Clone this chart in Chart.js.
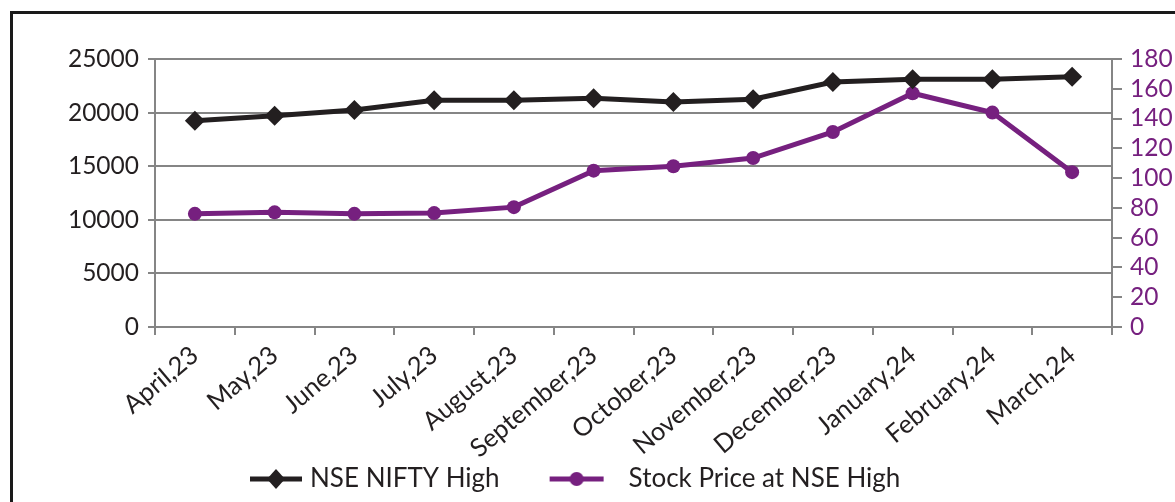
<!DOCTYPE html>
<html>
<head>
<meta charset="utf-8">
<script src="https://cdn.jsdelivr.net/npm/chart.js@4.4.1/dist/chart.umd.min.js"></script>
<style>
html,body{margin:0;padding:0;background:#fff;}
#wrap{width:1175px;height:502px;position:relative;overflow:hidden;}
</style>
</head>
<body>
<div id="wrap"><canvas id="c" width="1175" height="502"></canvas></div>
<script>
// ---- data ----
const categories = ["April,23","May,23","June,23","July,23","August,23","September,23","October,23","November,23","December,23","January,24","February,24","March,24"];
const niftyHigh = [19250, 19700, 20250, 21150, 21150, 21350, 21000, 21250, 22850, 23100, 23100, 23350];
const stockPrice = [76, 77, 76, 76.5, 80.5, 105, 108, 113.5, 131, 157, 144, 104];
const seriesNames = ["NSE NIFTY High", "Stock Price at NSE High"];
const leftAxisRange = [0, 25000, 5000];
const rightAxisRange = [0, 180, 20];

// ---- style ----
const BLACK = '#231f20';
const PURPLE = '#76207f';
const GRID = '#858585';
const FONT = 'Lato';

function legendIcon(color, diamond, x0, x1) {
  const cv = document.createElement('canvas');
  cv.width = 140; cv.height = 30;
  const g = cv.getContext('2d');
  g.strokeStyle = color; g.fillStyle = color; g.lineWidth = 5;
  g.beginPath(); g.moveTo(x0, 15); g.lineTo(x1, 15); g.stroke();
  const m = (x0 + x1) / 2;
  g.beginPath();
  if (diamond) { g.moveTo(m, 5); g.lineTo(m + 9, 15); g.lineTo(m, 25); g.lineTo(m - 9, 15); g.closePath(); }
  else { g.arc(m, 15, 7, 0, Math.PI * 2); }
  g.fill();
  return cv;
}
const icons = [legendIcon(BLACK, true, 81, 133), legendIcon(PURPLE, false, 62, 116)];

const framePlugin = {
  id: 'frame',
  beforeDraw(chart) {
    const ctx = chart.ctx;
    ctx.save();
    ctx.fillStyle = '#fff';
    ctx.fillRect(0, 0, chart.width, chart.height);
    ctx.strokeStyle = '#1a1a1a';
    ctx.lineWidth = 3;
    ctx.strokeRect(11.5, 12.5, 1400, 800);
    ctx.restore();
  },
  afterLayout(chart) {
    const lg = chart.legend;
    if (lg && lg.lineWidths) {
      lg.right = 2 * 181 + lg.lineWidths[0] - lg.left;
    }
  }
};

const plain = v => String(v);

new Chart(document.getElementById('c'), {
  type: 'line',
  data: {
    labels: categories,
    datasets: [
      {
        label: seriesNames[0], data: niftyHigh, yAxisID: 'y',
        borderColor: BLACK, backgroundColor: BLACK, borderWidth: 5,
        pointStyle: 'rectRot', pointRadius: 10, pointHoverRadius: 10,
        pointBackgroundColor: BLACK, pointBorderWidth: 0, tension: 0
      },
      {
        label: seriesNames[1], data: stockPrice, yAxisID: 'y1',
        borderColor: PURPLE, backgroundColor: PURPLE, borderWidth: 5,
        pointStyle: 'circle', pointRadius: 7, pointHoverRadius: 7,
        pointBackgroundColor: PURPLE, pointBorderWidth: 0, tension: 0
      }
    ]
  },
  options: {
    responsive: false,
    animation: false,
    devicePixelRatio: 1,
    layout: { padding: { top: 59, left: 0, right: 0, bottom: 0 } },
    plugins: {
      tooltip: { enabled: false },
      legend: {
        position: 'bottom',
        labels: {
          color: BLACK,
          font: { family: FONT, size: 26 },
          usePointStyle: true,
          pointStyleWidth: 116,
          padding: 0,
          generateLabels(chart) {
            return chart.data.datasets.map((ds, i) => ({
              text: ds.label, fillStyle: ds.borderColor, strokeStyle: ds.borderColor,
              lineWidth: 0, pointStyle: icons[i], datasetIndex: i, hidden: false,
              fontColor: BLACK
            }));
          }
        }
      }
    },
    scales: {
      x: {
        offset: true,
        grid: { offset: true, drawOnChartArea: false, drawTicks: true, tickLength: 8, color: GRID, lineWidth: 2 },
        border: { display: true, color: GRID, width: 2 },
        ticks: { color: BLACK, font: { family: FONT, size: 25.5 }, minRotation: 40, maxRotation: 40, padding: 5, autoSkip: false },
        afterFit(s) { s.height = 139; }
      },
      y: {
        position: 'left',
        min: leftAxisRange[0], max: leftAxisRange[1],
        grid: { color: GRID, lineWidth: 2, drawTicks: true, tickLength: 7 },
        border: { display: true, color: GRID, width: 2 },
        ticks: { stepSize: leftAxisRange[2], color: BLACK, font: { family: FONT, size: 24.5 }, padding: 9, autoSkip: false, callback: plain },
        afterFit(s) { s.width = 155; }
      },
      y1: {
        position: 'right',
        min: rightAxisRange[0], max: rightAxisRange[1],
        grid: { drawOnChartArea: false, color: GRID, lineWidth: 2, drawTicks: true, tickLength: 10 },
        border: { display: true, color: GRID, width: 2 },
        ticks: { stepSize: rightAxisRange[2], color: PURPLE, font: { family: FONT, size: 24.5 }, padding: 8, autoSkip: false, callback: plain },
        afterFit(s) { s.width = 63; }
      }
    }
  },
  plugins: [framePlugin]
});
</script>
</body>
</html>
